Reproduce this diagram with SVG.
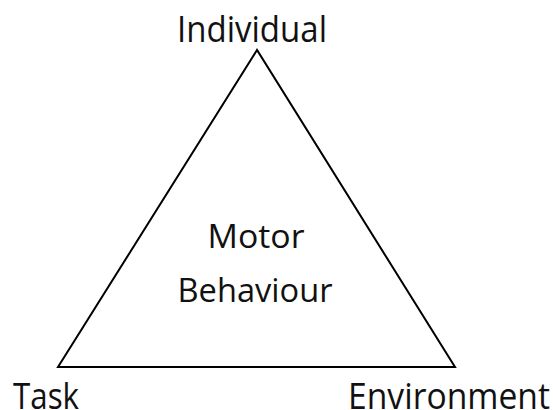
<svg xmlns="http://www.w3.org/2000/svg" width="553" height="410" viewBox="0 0 553 410">
<style>
text{font-family:"Open Sans","Noto Sans",sans-serif;font-size:36px;fill:#111}
.mid{font-size:33px}
.edge{fill:none;stroke:#000;stroke-width:2}
</style>
<rect width="553" height="410" fill="#fff"/>
<g id="connectors">
<polygon class="edge" points="257,50 58,367 455,367"/>
</g>
<g id="individual"><text x="252" y="42" text-anchor="middle" textLength="150" lengthAdjust="spacingAndGlyphs">Individual</text></g>
<g id="task"><text x="13" y="409" textLength="66" lengthAdjust="spacingAndGlyphs">Task</text></g>
<g id="environment"><text x="348" y="409" textLength="202" lengthAdjust="spacingAndGlyphs">Environment</text></g>
<g id="motor-behaviour">
<text class="mid" x="256" y="248" text-anchor="middle" textLength="97" lengthAdjust="spacingAndGlyphs">Motor</text>
<text class="mid" x="255" y="302" text-anchor="middle" textLength="155" lengthAdjust="spacingAndGlyphs">Behaviour</text>
</g>
</svg>
